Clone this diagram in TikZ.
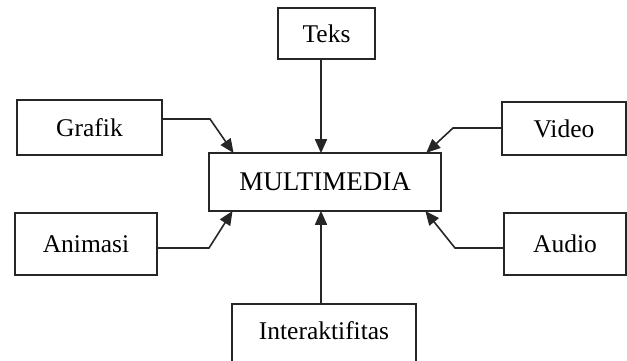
\documentclass[tikz,border=0pt]{standalone}
\usepackage{fontspec}
\setmainfont{Liberation Serif}
\usetikzlibrary{arrows.meta}
\tikzset{
  box/.style={draw=black!85, line width=1.6pt, rectangle, inner sep=0pt,
    font=\fontsize{25.5}{30}\selectfont},
  arr/.style={draw=black!85, line width=1.6pt,
    -{Triangle[length=14pt,width=12pt]}, shorten >=-1pt}
}
\begin{document}
\begin{tikzpicture}[x=1pt,y=-1pt]
\useasboundingbox (0,0) rectangle (627,360);
\node[box, minimum width=232pt, minimum height=58pt,
  font=\fontsize{27}{30}\selectfont] (MM) at (325,182) {MULTIMEDIA};
\node[box, minimum width=97pt, minimum height=51pt] (Teks) at (326.5,33.5) {Teks};
\node[box, minimum width=145pt, minimum height=55pt] (Grafik) at (89.5,127.5) {Grafik};
\node[box, minimum width=124pt, minimum height=53pt] (Video) at (564,128.5) {Video};
\node[box, minimum width=142pt, minimum height=62pt] (Animasi) at (86,244) {Animasi};
\node[box, minimum width=122pt, minimum height=62pt] (Audio) at (565,244) {Audio};
\node[box, minimum width=184pt, minimum height=60pt, text depth=6pt] (Inter) at (324,334) {Interaktifitas};
% bend and column coordinates
\coordinate (tx) at (321,0);
\coordinate (g0) at (0,119);
\coordinate (g1) at (210,119);
\coordinate (g2) at (233,0);
\coordinate (v0) at (0,128);
\coordinate (v1) at (453,128);
\coordinate (v2) at (427,0);
\coordinate (a0) at (0,248);
\coordinate (a1) at (209,248);
\coordinate (a2) at (232,0);
\coordinate (u0) at (0,248);
\coordinate (u1) at (455,248);
\coordinate (u2) at (426,0);
% connectors
\draw[arr] (tx |- Teks.south) -- (tx |- MM.north);
\draw[arr] (tx |- Inter.north) -- (tx |- MM.south);
\draw[arr] (Grafik.east |- g0) -- (g1) -- (g2 |- MM.north);
\draw[arr] (Video.west |- v0) -- (v1) -- (v2 |- MM.north);
\draw[arr] (Animasi.east |- a0) -- (a1) -- (a2 |- MM.south);
\draw[arr] (Audio.west |- u0) -- (u1) -- (u2 |- MM.south);
\end{tikzpicture}
\end{document}
